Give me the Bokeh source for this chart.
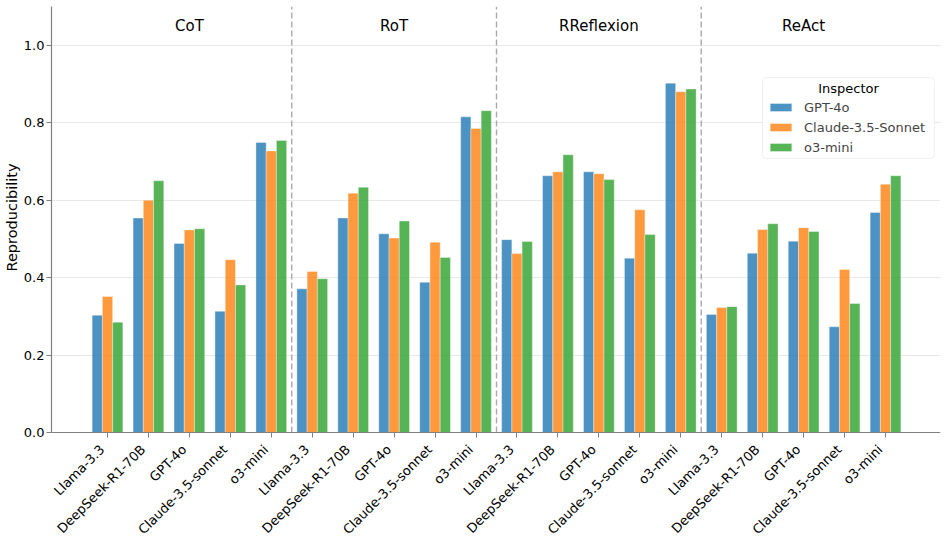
import math
from bokeh.plotting import figure
from bokeh.models import (ColumnDataSource, FixedTicker, PrintfTickFormatter, Legend,
                          LegendItem, Label, BoxAnnotation, Title)
from bokeh.embed import file_html
from bokeh.resources import INLINE
from bokeh.core.properties import value

methods = ["CoT", "RoT", "RReflexion", "ReAct"]
models = ["Llama-3.3", "DeepSeek-R1-70B", "GPT-4o", "Claude-3.5-sonnet", "o3-mini"]
inspectors = ["GPT-4o", "Claude-3.5-Sonnet", "o3-mini"]

# values ordered: method by method, model by model
gpt4o = [0.303, 0.554, 0.488, 0.313, 0.749,
         0.371, 0.554, 0.513, 0.388, 0.815,
         0.498, 0.663, 0.673, 0.450, 0.902,
         0.305, 0.463, 0.494, 0.273, 0.568]
claude = [0.351, 0.600, 0.523, 0.446, 0.727,
          0.416, 0.618, 0.502, 0.491, 0.785,
          0.462, 0.673, 0.668, 0.575, 0.880,
          0.323, 0.524, 0.529, 0.421, 0.641]
o3mini = [0.285, 0.650, 0.526, 0.381, 0.754,
          0.397, 0.633, 0.546, 0.452, 0.831,
          0.493, 0.717, 0.653, 0.511, 0.887,
          0.325, 0.539, 0.519, 0.333, 0.663]
y_ticks = [0.0, 0.2, 0.4, 0.6, 0.8, 1.0]

colors = ["#1f77b4", "#ff7f0e", "#2ca02c"]
series = [gpt4o, claude, o3mini]
n = len(methods) * len(models)
bar_w = 0.25
FONT = "DejaVu Sans"
Y_TOP = 1.1
PX_PER_UNIT = 387.27          # vertical scale of the value axis
BELOW_PX = 106                # room under the zero line for the rotated names
y_bottom = -BELOW_PX / PX_PER_UNIT
label_gap = 20 / PX_PER_UNIT

p = figure(width=941, height=538, x_range=(-1.3675, 20.343), y_range=(y_bottom, Y_TOP),
           output_backend="svg", toolbar_location=None,
           min_border_left=51, min_border_right=1, min_border_top=6, min_border_bottom=0)
p.outline_line_color = None
p.background_fill_color = None

renderers = []
for k, (vals, col) in enumerate(zip(series, colors)):
    src = ColumnDataSource(dict(x=[i + (k - 1) * bar_w for i in range(n)], top=vals))
    r = p.vbar(x="x", top="top", width=bar_w, bottom=0, source=src,
               fill_color=col, fill_alpha=0.8, line_color="white", line_width=0.6, line_alpha=0.6)
    renderers.append(r)

seps = [g * len(models) - 0.5 for g in range(1, len(methods))]
p.segment(x0=seps, x1=seps, y0=[0] * len(seps), y1=[Y_TOP] * len(seps),
          line_color="#aaaaaa", line_dash="6 3", line_width=1.4)

lab_src = ColumnDataSource(dict(x=[g * len(models) + (len(models) - 1) / 2 for g in range(len(methods))],
                                y=[1.05] * len(methods), text=methods))
p.text(x="x", y="y", text="text", source=lab_src, text_align="center", text_baseline="middle",
       text_font=value(FONT), text_font_size="15px", text_color="black")

# axes
p.xaxis.fixed_location = 0
p.xaxis.ticker = FixedTicker(ticks=[], minor_ticks=list(range(n)))
p.xaxis.minor_tick_line_color = "#808080"
p.xaxis.minor_tick_in = 0
p.xaxis.minor_tick_out = 5
p.yaxis.ticker = FixedTicker(ticks=y_ticks)
p.yaxis.formatter = PrintfTickFormatter(format="%.1f")
p.yaxis.bounds = (0, Y_TOP)
p.yaxis.minor_tick_line_color = None
for ax in (p.xaxis, p.yaxis):
    ax.axis_line_color = "#808080"
    ax.axis_line_width = 1.2
    ax.major_tick_line_color = "#808080"
    ax.major_tick_in = 0
    ax.major_tick_out = 5
p.yaxis.major_label_text_font = FONT
p.yaxis.major_label_text_font_size = "13px"
p.yaxis.major_label_text_color = "black"
p.yaxis.major_label_standoff = 2
p.xgrid.visible = False
p.ygrid.grid_line_color = "#e8e8e8"
p.ygrid.grid_line_width = 1

# y-axis title, centred on the 0..1.1 part of the axis
p.add_layout(Title(text="Reproducibility", align="right", offset=157, standoff=2,
                   text_font=FONT, text_font_size="14.5px", text_font_style="normal",
                   text_color="black"), "left")

# rotated model names under each tick
name_src = ColumnDataSource(dict(x=list(range(n)), y=[-label_gap] * n,
                                 text=[models[i % len(models)] for i in range(n)]))
p.text(x="x", y="y", text="text", source=name_src, angle=math.pi / 4,
       text_align="right", text_baseline="bottom",
       text_font=value(FONT), text_font_size="13px", text_color="black")

# legend box, title and entries (screen units from the frame's bottom)
p.add_layout(BoxAnnotation(left=711, right=883, bottom=274 + BELOW_PX, top=355 + BELOW_PX,
                           left_units="screen", right_units="screen",
                           bottom_units="screen", top_units="screen",
                           fill_color="white", fill_alpha=0.8, line_color="#cccccc",
                           line_width=1, border_radius=4, level="annotation"))
legend = Legend(items=[LegendItem(label=lab, renderers=[r]) for lab, r in zip(inspectors, renderers)],
                location=(716, 277 + BELOW_PX))
legend.label_text_font = FONT
legend.label_text_font_size = "13px"
legend.glyph_width = 27
legend.glyph_height = 10
legend.label_height = 16
legend.label_standoff = 10
legend.spacing = 4
legend.padding = 0
legend.margin = 0
legend.border_line_color = None
legend.background_fill_alpha = 0
p.add_layout(legend)
p.add_layout(Label(x=797, y=344 + BELOW_PX, x_units="screen", y_units="screen", text="Inspector",
                   text_align="center", text_baseline="middle",
                   text_font=FONT, text_font_size="13px", text_color="black"))

open("out.html", "w").write(file_html(p, INLINE))
